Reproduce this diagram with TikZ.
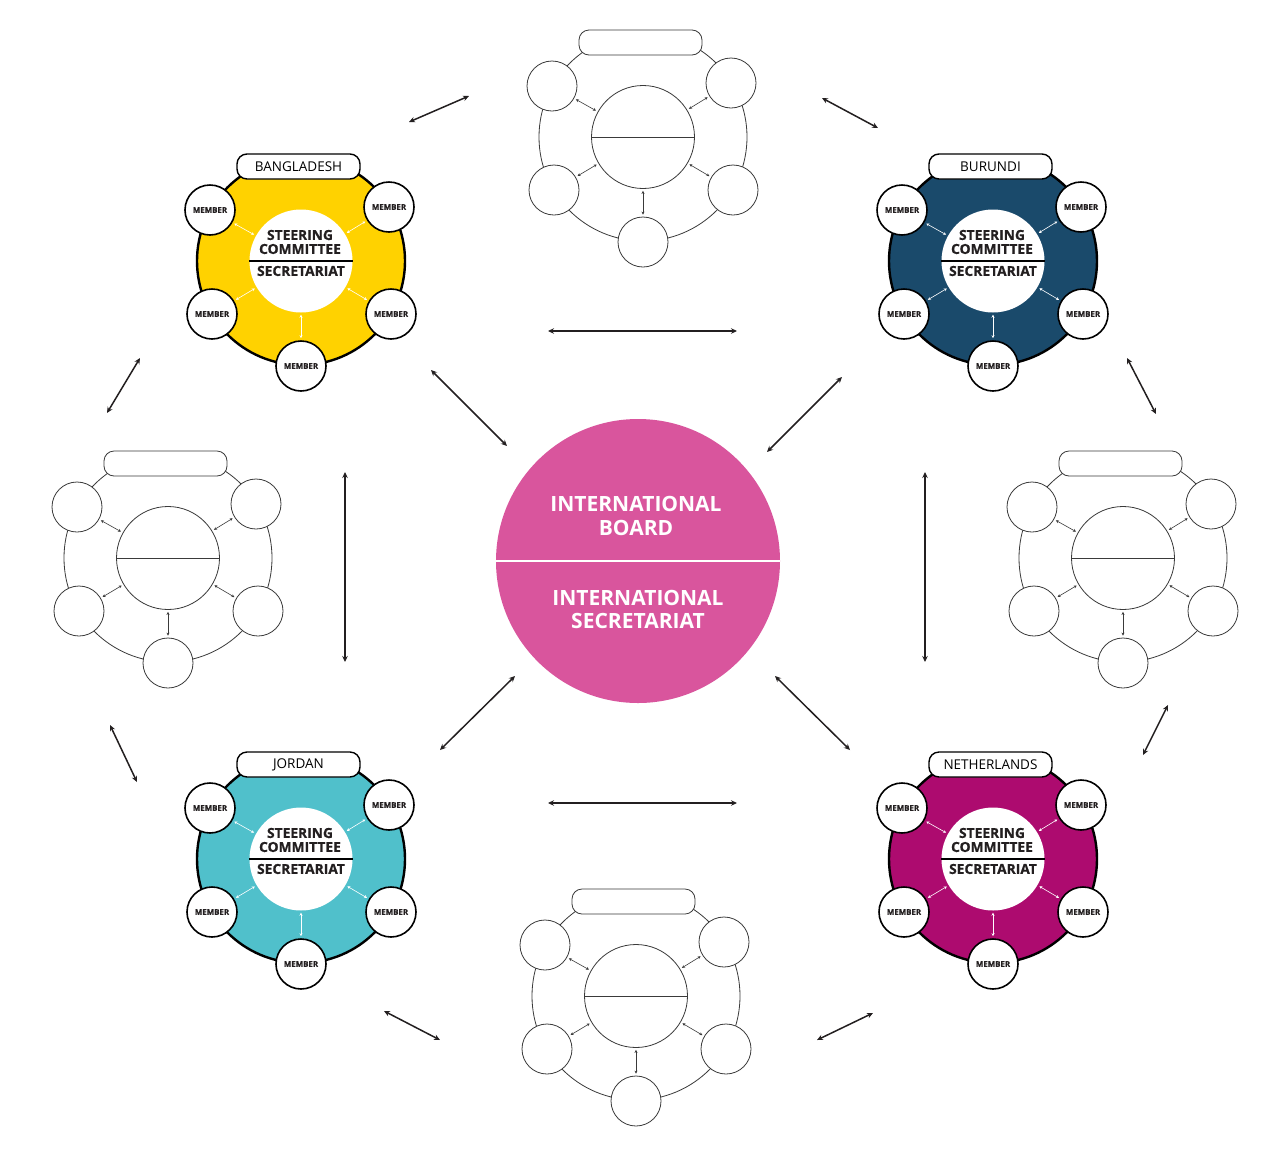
\documentclass[tikz,border=0pt]{standalone}
\usepackage{fontspec}
\setmainfont{Open Sans}
\newfontfamily\heavyfont[BoldFeatures={FakeBold=0.8}]{Open Sans}
\usetikzlibrary{arrows.meta}
\definecolor{cyellow}{HTML}{FFD200}
\definecolor{cblue}{HTML}{1A4A6B}
\definecolor{cteal}{HTML}{50C0CB}
\definecolor{cmag}{HTML}{AD0B6F}
\definecolor{cpink}{HTML}{D9559D}
\definecolor{cdark}{HTML}{231F20}
\definecolor{cgray}{HTML}{3A3A3A}
\tikzset{
 ringfull/.style={circle, minimum size=208pt, inner sep=0pt, draw=black, line width=2.4pt},
 ringempty/.style={circle, minimum size=208pt, inner sep=0pt, draw=cgray, line width=0.8pt},
 innerfull/.style={circle, minimum size=103pt, inner sep=0pt, fill=white},
 innerempty/.style={circle, minimum size=103pt, inner sep=0pt, fill=white, draw=cgray, line width=0.8pt},
 memberfull/.style={circle, minimum size=50pt, inner sep=0pt, fill=white, draw=black, line width=1.6pt, font=\heavyfont\bfseries\fontsize{7.9}{8}\selectfont, text=cdark},
 memberempty/.style={circle, minimum size=50pt, inner sep=0pt, fill=white, draw=cgray, line width=0.8pt},
 labfull/.style={rectangle, rounded corners=10pt, minimum width=123pt, minimum height=25pt, inner sep=0pt, fill=white, draw=black, line width=1.4pt, font=\fontsize{13.5}{14}\selectfont, text=black},
 labempty/.style={rectangle, rounded corners=10pt, minimum width=123pt, minimum height=25pt, inner sep=0pt, fill=white, draw=cgray, line width=0.8pt},
 sctext/.style={font=\heavyfont\bfseries\fontsize{13.8}{14}\selectfont, align=center, text=cdark, inner sep=0pt},
 ctext/.style={font=\bfseries\fontsize{21}{23.5}\selectfont, align=center, text=white, inner sep=0pt},
 inarrow/.style={{Stealth[length=3pt,width=3pt]}-{Stealth[length=3pt,width=3pt]}, line width=0.6pt, shorten <=2pt, shorten >=2pt},
 outarrow/.style={{Stealth[length=6pt,width=5.5pt,inset=2pt]}-{Stealth[length=6pt,width=5.5pt,inset=2pt]}, line width=1.5pt, draw=cdark},
}
\newcommand{\fullcluster}[5]{%
\begin{scope}[shift={(#2,#3)}]
\node[ringfull, fill=#4] (#1ring) at (0,0) {};
\node[labfull] (#1lab) at (-2.5,-94.5) {#5};
\node[memberfull] (#1ma) at (-91,-51) {MEMBER};
\node[memberfull] (#1mb) at (88,-54) {MEMBER};
\node[memberfull] (#1mc) at (-89,53) {MEMBER};
\node[memberfull] (#1md) at (90,53) {MEMBER};
\node[memberfull] (#1me) at (0,105) {MEMBER};
\node[innerfull] (#1in) at (0,0) {};
\draw[line width=1.3pt, black] (#1in.west) -- (#1in.east);
\node[sctext] (#1sc) at (-1,-19) {STEERING\\COMMITTEE};
\node[sctext] (#1sec) at (0,10) {SECRETARIAT};
\foreach \m in {a,b,c,d,e} \draw[inarrow, white] (#1in) -- (#1m\m);
\end{scope}}
\newcommand{\emptycluster}[3]{%
\begin{scope}[shift={(#2,#3)}]
\node[ringempty] (#1ring) at (0,0) {};
\node[labempty] (#1lab) at (-2.5,-94.5) {};
\node[memberempty] (#1ma) at (-91,-51) {};
\node[memberempty] (#1mb) at (88,-54) {};
\node[memberempty] (#1mc) at (-89,53) {};
\node[memberempty] (#1md) at (90,53) {};
\node[memberempty] (#1me) at (0,105) {};
\node[innerempty] (#1in) at (0,0) {};
\draw[line width=0.8pt, cgray] (#1in.west) -- (#1in.east);
\foreach \m in {a,b,c,d,e} \draw[inarrow, cgray] (#1in) -- (#1m\m);
\end{scope}}
\begin{document}
\begin{tikzpicture}[x=1pt,y=-1pt]
\useasboundingbox[fill=white] (0,0) rectangle (1275,1157);
% clusters
\fullcluster{bgd}{301}{261}{cyellow}{BANGLADESH}
\fullcluster{bdi}{993}{261}{cblue}{BURUNDI}
\fullcluster{jor}{301}{859}{cteal}{JORDAN}
\fullcluster{nld}{993}{859}{cmag}{NETHERLANDS}
\emptycluster{top}{643}{137}
\emptycluster{lft}{168}{558}
\emptycluster{rgt}{1123}{558}
\emptycluster{bot}{636}{996}
% centre
\node[circle, minimum size=284pt, inner sep=0pt, fill=cpink] (ib) at (638,561) {};
\draw[white, line width=1.5pt] (ib.west) -- (ib.east);
\node[ctext] (ibt) at (636,516) {INTERNATIONAL\\BOARD};
\node[ctext] (ist) at (638,609.5) {INTERNATIONAL\\SECRETARIAT};
% outer arrows
\coordinate (p1a) at (409,122);  \coordinate (p1b) at (469,96);
\coordinate (p2a) at (822,98);   \coordinate (p2b) at (878,128);
\coordinate (p3a) at (548,331);  \coordinate (p3b) at (737,331);
\coordinate (p4a) at (107,413);  \coordinate (p4b) at (140,358);
\coordinate (p5a) at (1127,358); \coordinate (p5b) at (1156,414);
\coordinate (p6a) at (431,370);  \coordinate (p6b) at (507,446);
\coordinate (p7a) at (842,377);  \coordinate (p7b) at (767,452);
\coordinate (p8a) at (345,472);  \coordinate (p8b) at (345,662);
\coordinate (p9a) at (925,472);  \coordinate (p9b) at (925,662);
\coordinate (p10a) at (110,725); \coordinate (p10b) at (137,782);
\coordinate (p11a) at (1168,705);\coordinate (p11b) at (1143,755);
\coordinate (p12a) at (515,676); \coordinate (p12b) at (440,750);
\coordinate (p13a) at (775,676); \coordinate (p13b) at (850,750);
\coordinate (p14a) at (548,803); \coordinate (p14b) at (737,803);
\coordinate (p15a) at (384,1011);\coordinate (p15b) at (440,1040);
\coordinate (p16a) at (817,1040);\coordinate (p16b) at (873,1013);
\foreach \i in {1,...,16} \draw[outarrow] (p\i a) -- (p\i b);
\end{tikzpicture}
\end{document}
